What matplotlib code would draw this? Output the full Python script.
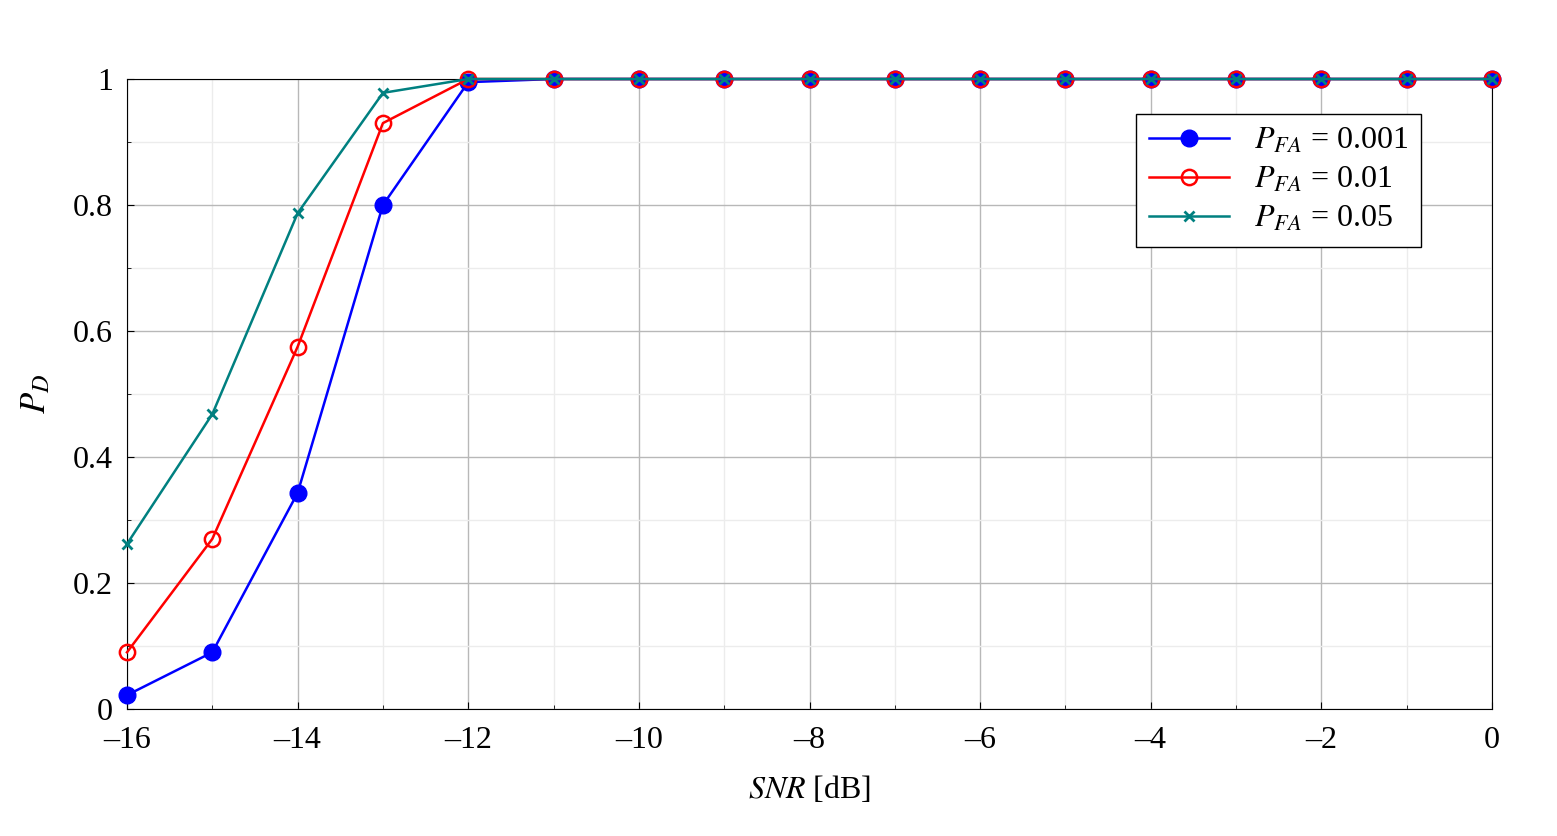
import matplotlib
matplotlib.use("Agg")
import matplotlib.pyplot as plt
from matplotlib.ticker import MultipleLocator

snr = list(range(-16, 1))
pd_001 = [0.022, 0.09, 0.343, 0.80, 0.995] + [1.0]*12
pd_01 = [0.09, 0.27, 0.575, 0.93, 1.0] + [1.0]*12
pd_05 = [0.262, 0.468, 0.787, 0.978, 1.0] + [1.0]*12

plt.rcParams['font.family'] = ['Liberation Serif', 'DejaVu Serif']
plt.rcParams['mathtext.fontset'] = 'stix'

fig = plt.figure(figsize=(15.57, 8.36), dpi=100)
ax = fig.add_axes([127/1557, 1-709/836, (1492-127)/1557, (709-79)/836])
ax.plot(snr, pd_001, '-o', color='blue', lw=1.8, ms=12, label=r'$P_{FA}$ = 0.001', zorder=3, clip_on=False)
ax.plot(snr, pd_01, '-o', color='red', lw=1.8, ms=11, mfc='none', mew=1.8, label=r'$P_{FA}$ = 0.01', zorder=4, clip_on=False)
ax.plot(snr, pd_05, '-x', color='#008080', lw=1.8, ms=7, mew=2, label=r'$P_{FA}$ = 0.05', zorder=5, clip_on=False)
ax.set_xlim(-16, 0)
ax.set_ylim(0, 1)
ax.xaxis.set_major_locator(MultipleLocator(2))
ax.xaxis.set_minor_locator(MultipleLocator(1))
ax.yaxis.set_major_locator(MultipleLocator(0.2))
ax.yaxis.set_minor_locator(MultipleLocator(0.1))
ax.set_xticks(range(-16, 1, 2))
ax.set_xticklabels(['0' if v == 0 else '\u2013%d' % -v for v in range(-16, 1, 2)])
ax.set_yticks([0, 0.2, 0.4, 0.6, 0.8, 1])
ax.set_yticklabels(['0', '0.2', '0.4', '0.6', '0.8', '1'])
ax.grid(which='major', color='#b8b8b8', lw=1)
ax.grid(which='minor', color='#ececec', lw=1)
ax.tick_params(which='both', direction='in', labelsize=23, length=5)
ax.tick_params(axis='x', pad=12)
ax.tick_params(axis='y', pad=10)
ax.tick_params(which='minor', length=3)
ax.set_xlabel(r'$SNR$ [dB]', fontsize=23, labelpad=14)
ax.set_ylabel(r'$P_D$', fontsize=25, labelpad=14)
leg = ax.legend(loc='upper right', bbox_to_anchor=(0.96, 0.97), fontsize=23, fancybox=False,
                edgecolor='black', framealpha=1, handlelength=2.5, borderpad=0.4, labelspacing=0.3)
leg.get_frame().set_linewidth(1)
fig.savefig('out.png', dpi=100)
